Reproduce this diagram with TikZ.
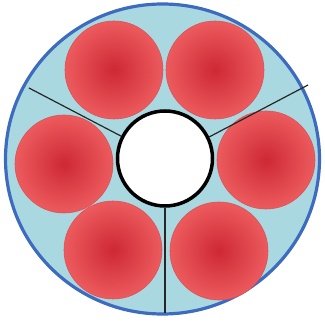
\documentclass[tikz,border=0pt]{standalone}
\usetikzlibrary{shapes.geometric}
\definecolor{ringblue}{HTML}{3D6BBF}
\definecolor{fillblue}{HTML}{AAD8E0}
\definecolor{redin}{HTML}{CE2834}
\definecolor{redout}{HTML}{EC5B5E}
\definecolor{rededge}{HTML}{DC5055}
\tikzset{
  cell/.style={circle, minimum size=98pt, inner sep=0pt, inner color=redin, outer color=redout, draw=rededge, line width=0.6pt},
  spoke/.style={draw=black!85, line width=1.2pt}
}
\begin{document}
\begin{tikzpicture}[x=1pt,y=1pt]
\useasboundingbox (0,0) rectangle (325,322);
\node[ellipse, minimum width=314pt, minimum height=310pt, inner sep=0pt, fill=fillblue, draw=ringblue, line width=3.2pt] (outer) at (162.5,163) {};
\node[cell] (tl) at (114,252) {};
\node[cell] (tr) at (215,252) {};
\node[cell] (l) at (64,158) {};
\node[cell] (r) at (266,162) {};
\node[cell] (bl) at (113,72) {};
\node[cell] (br) at (219,71) {};
\node[circle, minimum size=95pt, inner sep=0pt, fill=white, draw=black, line width=3.5pt] (c) at (165,163.5) {};
\coordinate (ul) at (29,234);
\coordinate (ur) at (308,237);
\coordinate (bot) at (165,9);
\draw[spoke] (c.153) -- (ul);
\draw[spoke] (c.26) -- (ur);
\draw[spoke] (c.south) -- (bot);
\end{tikzpicture}
\end{document}
